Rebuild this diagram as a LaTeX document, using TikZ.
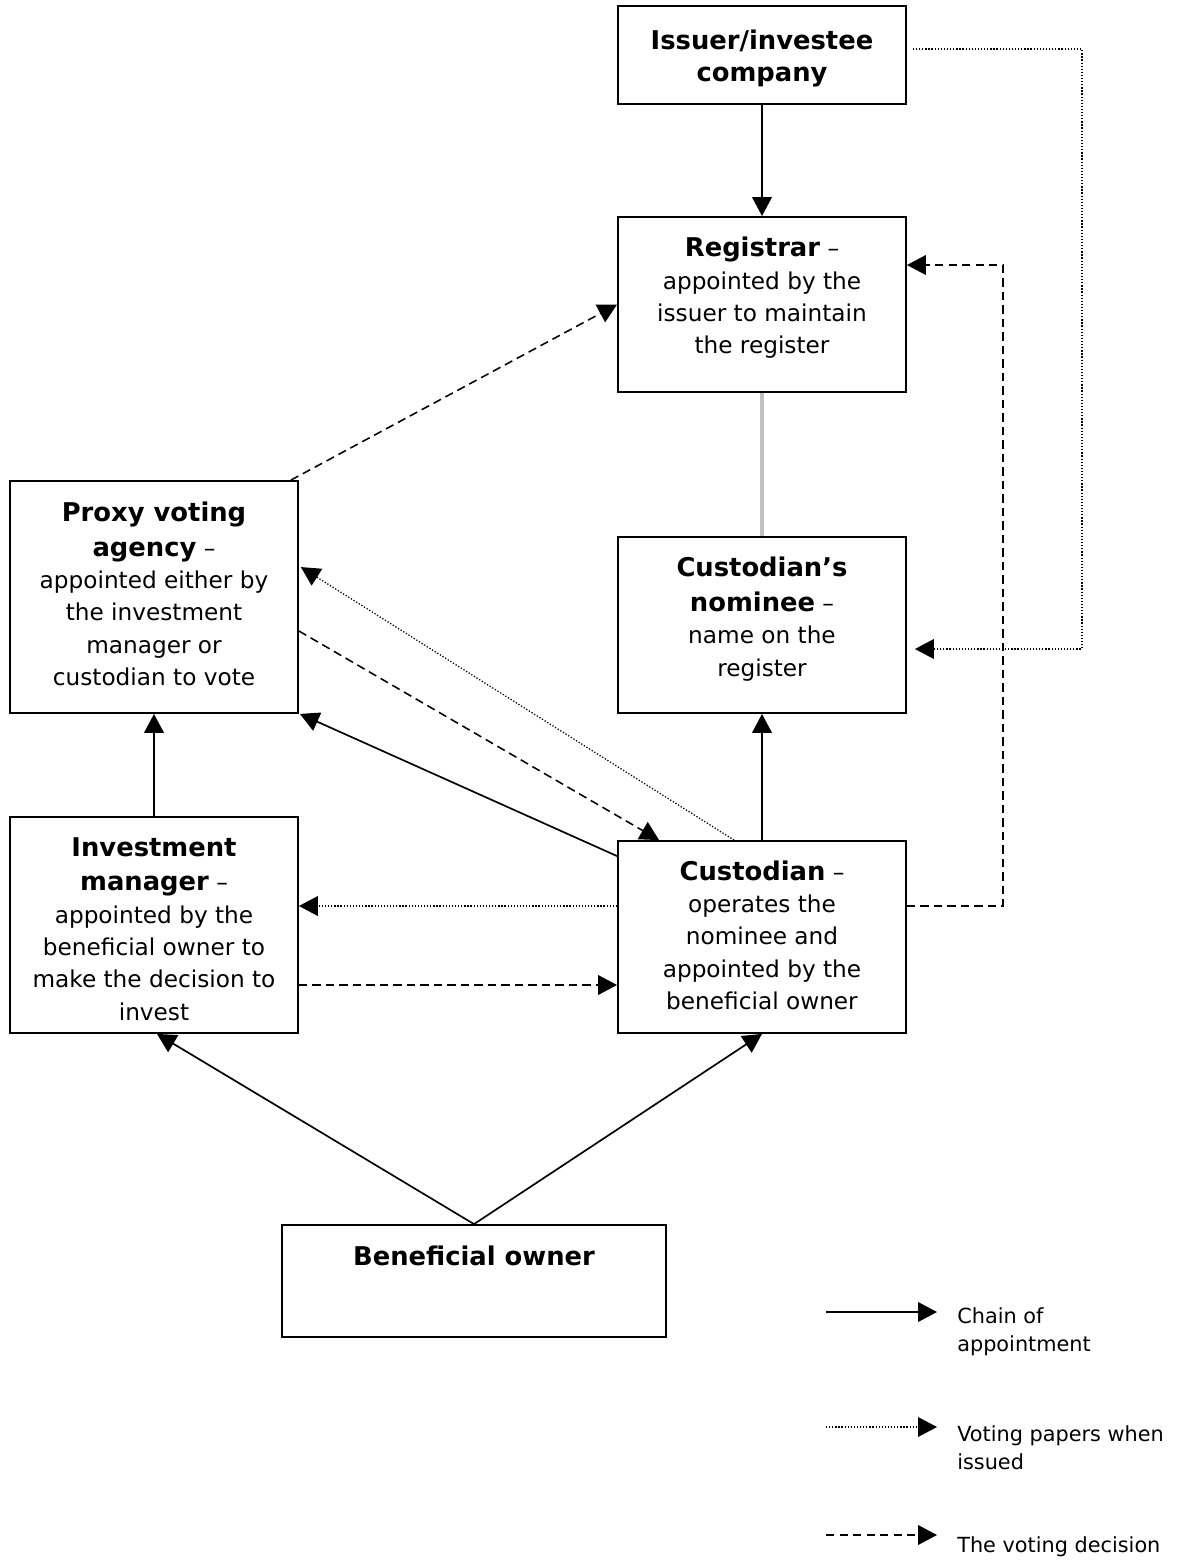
\documentclass[tikz,border=0pt]{standalone}
\usepackage{fontspec}
\setmainfont{DejaVu Sans}
\usetikzlibrary{arrows.meta,fit,calc}
\definecolor{lgray}{RGB}{192,192,192}
\newcommand{\boxlines}[2][c]{\begin{tabular}[t]{@{}#1@{}}#2\end{tabular}}
\newcommand{\hd}[1]{{\fontsize{18.35}{23}\selectfont\bfseries #1}}
\tikzset{
  box/.style={draw=black, line width=1.3pt, inner sep=0pt, rectangle},
  txt/.style={anchor=base, inner sep=0pt, font=\fontsize{16.5}{23}\selectfont},
  legtxt/.style={anchor=base west, inner sep=0pt, font=\fontsize{14.8}{20.3}\selectfont},
  tip/.style={-{Triangle[length=13.5pt,width=14pt]}},
  appt/.style={tip, line width=1.2pt},
  vote/.style={tip, line width=1.1pt, dash pattern=on 6pt off 3.6pt},
  papers/.style={tip, line width=0.9pt, dash pattern=on 0.9pt off 1.3pt},
  grayline/.style={draw=lgray, line width=2.4pt}
}
\begin{document}
\begin{tikzpicture}[x=0.025cm, y=-0.025cm]
\useasboundingbox (0,0) rectangle (1180,1560);

% boxes
\node[box, fit={(618,6) (906,104)}] (issuer) {};
\node[box, fit={(618,217) (906,392)}] (registrar) {};
\node[box, fit={(618,537) (906,713)}] (nominee) {};
\node[box, fit={(10,481) (298,713)}] (proxy) {};
\node[box, fit={(10,817) (298,1033)}] (im) {};
\node[box, fit={(618,841) (906,1033)}] (cust) {};
\node[box, fit={(282,1225) (666,1337)}] (bo) {};

% texts
\node[txt] (issuerT) at (762,49.3) {\boxlines{\hd{Issuer/investee}\\ \hd{company}}};
\node[txt] (registrarT) at (762,256.7) {\boxlines{\hd{Registrar} –\\ appointed by the\\ issuer to maintain\\ the register}};
\node[txt] (nomineeT) at (762,576.7) {\boxlines{\hd{Custodian’s}\\[1.7pt] \hd{nominee} –\\ name on the\\ register}};
\node[txt] (proxyT) at (154,521.7) {\boxlines{\hd{Proxy voting}\\[1.4pt] \hd{agency} –\\ appointed either by\\ the investment\\ manager or\\ custodian to vote}};
\node[txt] (imT) at (154,856.7) {\boxlines{\hd{Investment}\\[1.2pt] \hd{manager} –\\ appointed by the\\ beneficial owner to\\ make the decision to\\ invest}};
\node[txt] (custT) at (762,880) {\boxlines{\hd{Custodian} –\\ operates the\\ nominee and\\ appointed by the\\ beneficial owner}};
\node[txt] (boT) at (474,1265) {\hd{Beneficial owner}};

% chain of appointment
\draw[appt] (issuer.south) -- (registrar.north);
\draw[grayline] (registrar.south) -- (nominee.north);
\draw[appt] (cust.north) -- (nominee.south);
\draw[appt] (im.north) -- (proxy.south);
\draw[appt] ($(cust.north west)+(0,16)$) -- ($(proxy.south east)+(1,0)$);
\draw[appt] (bo.north) -- ($(im.south)+(3,0)$);
\draw[appt] (bo.north) -- (cust.south);

% voting decision
\draw[vote] ($(proxy.north east)+(-8,0)$) -- (registrar.west);
\draw[vote] ($(proxy.east)+(0,34)$) -- ($(cust.north west)+(42,0)$);
\draw[vote] ($(im.east)+(0,60)$) coordinate (d1) -- (d1 -| cust.west);
\draw[vote] ($(cust.east)+(0,-31)$) -- ++(96,0) |- ($(registrar.east)+(0,-39.5)$);

% voting papers
\draw[papers] ($(cust.north west)+(117,0)$) -- ($(proxy.north east)+(2,87)$);
\draw[papers] ($(cust.west)+(0,-31)$) coordinate (p1) -- (p1 -| im.east);
\draw[papers] ($(issuer.east)+(6,-6)$) -- ++(169,0) |- ($(nominee.east)+(8,24)$);

% legend
\coordinate (l1s) at (826,1312); \coordinate (l1e) at (937,1312);
\coordinate (l2s) at (826,1427); \coordinate (l2e) at (937,1427);
\coordinate (l3s) at (826,1535); \coordinate (l3e) at (937,1535);
\draw[appt] (l1s) -- (l1e);
\draw[papers] (l2s) -- (l2e);
\draw[vote] (l3s) -- (l3e);
\node[legtxt] (leg1) at (957,1323) {\boxlines[l]{Chain of\\ appointment}};
\node[legtxt] (leg2) at (957,1441) {\boxlines[l]{Voting papers when\\ issued}};
\node[legtxt] (leg3) at (957,1552) {The voting decision};
\end{tikzpicture}
\end{document}
